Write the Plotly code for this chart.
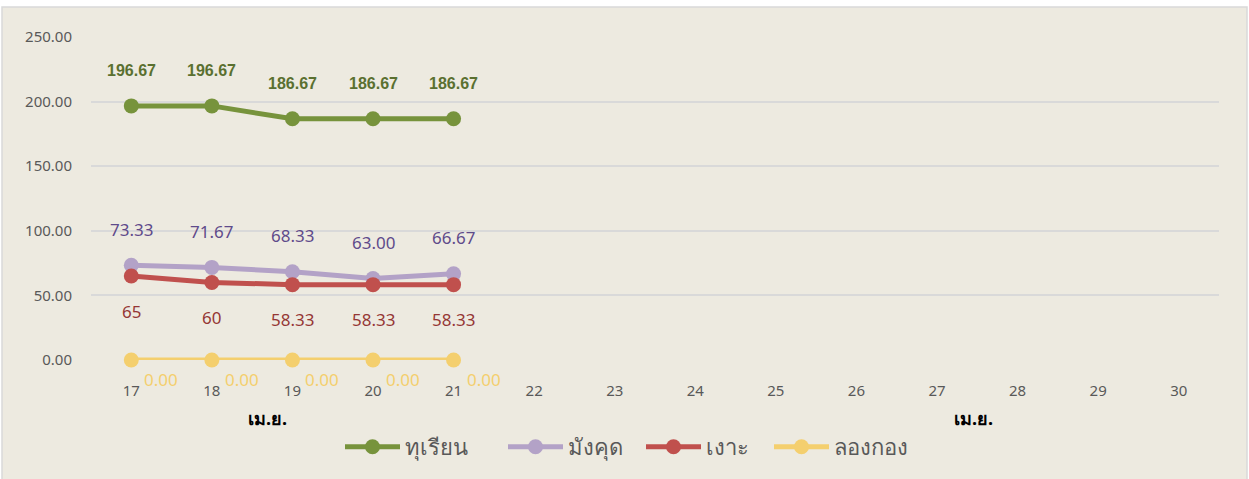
import plotly.graph_objects as go

days = ["17", "18", "19", "20", "21", "22", "23", "24", "25", "26", "27", "28", "29", "30"]
durian = [196.67, 196.67, 186.67, 186.67, 186.67]
mangosteen = [73.33, 71.67, 68.33, 63.00, 66.67]
rambutan = [65, 60, 58.33, 58.33, 58.33]
longkong = [0.00, 0.00, 0.00, 0.00, 0.00]
rambutan_labels = ["65", "60", "58.33", "58.33", "58.33"]
y_ticks = [0, 50, 100, 150, 200, 250]
month_label = "เม.ย."

W, H = 1249, 479
ML, MR, MT, MB = 91, 30, 37, 118
PW = W - ML - MR
PH = H - MT - MB

BG = "#EDEAE0"
FONT = "Tahoma, 'Noto Sans', 'DejaVu Sans', sans-serif"

series = [
    ("ทุเรียน", durian, "#77933C"),
    ("มังคุด", mangosteen, "#B3A2C7"),
    ("เงาะ", rambutan, "#C0504D"),
    ("ลองกอง", longkong, "#F4CF6E"),
]
legend_px = [340, 503, 641, 769]

fig = go.Figure()
legend_layouts = {}
for k, (name, vals, col) in enumerate(series):
    lname = "legend" if k == 0 else f"legend{k + 1}"
    fig.add_trace(go.Scatter(
        x=days[:len(vals)], y=vals, name=name, mode="lines+markers",
        line=dict(color=col, width=5), marker=dict(color=col, size=15),
        cliponaxis=False, legend=lname,
    ))
    legend_layouts[lname] = dict(
        x=(legend_px[k] - ML) / PW, xanchor="left", y=(361 - 447) / PH, yanchor="middle",
        font=dict(size=22, color="#595959", family=FONT), bgcolor="rgba(0,0,0,0)",
        itemwidth=55, orientation="h",
    )

ann = []
for i, v in enumerate(durian):
    ann.append(dict(x=i, y=v, text=f"<b>{v:.2f}</b>", showarrow=False, yshift=35,
                    font=dict(size=16, color="#5A7030", family="Arial, 'Liberation Sans', sans-serif")))
for i, v in enumerate(mangosteen):
    ann.append(dict(x=i, y=v, text=f"{v:.2f}", showarrow=False, yshift=36,
                    font=dict(size=17, color="#5F4B8B", family=FONT)))
for i, v in enumerate(rambutan):
    ann.append(dict(x=i, y=v, text=rambutan_labels[i], showarrow=False, yshift=-35,
                    font=dict(size=17, color="#953735", family=FONT)))
for i, v in enumerate(longkong):
    ann.append(dict(x=i, y=v, text=f"{v:.2f}", showarrow=False, yshift=-19, xshift=30,
                    font=dict(size=17, color="#F4CF6E", family=FONT)))
# multi-level category month labels
for xp in [(267 - ML) / PW, (973 - ML) / PW]:
    ann.append(dict(x=xp, xref="paper", xanchor="center", y=(361 - 419) / PH, yref="paper",
                    yanchor="middle", text=f"<b>{month_label}</b>",
                    showarrow=False, font=dict(size=18, color="#000000", family=FONT)))

shapes = [dict(type="rect", xref="paper", yref="paper", layer="below",
               x0=(2 - ML) / PW, x1=(1247 - ML) / PW, y0=(MT + PH - 479) / PH - 0.01, y1=(MT + PH - 7) / PH,
               fillcolor=BG, line=dict(color="#D9D9D9", width=1.5))]

fig.update_layout(
    width=W, height=H,
    margin=dict(l=ML, r=MR, t=MT, b=MB),
    paper_bgcolor="#FFFFFF", plot_bgcolor=BG,
    font=dict(family=FONT, color="#595959"),
    annotations=ann, shapes=shapes,
    xaxis=dict(type="category", categoryorder="array", categoryarray=days, range=[-0.5, 13.5],
               showgrid=False, showline=False, zeroline=False, ticks="",
               tickfont=dict(size=15, color="#595959"), ticklabelstandoff=20),
    yaxis=dict(range=[0, 250], tickvals=y_ticks, tickformat=".2f", showgrid=True,
               gridcolor="#D9D9D9", gridwidth=1.5, zeroline=False, showline=False, ticks="",
               tickfont=dict(size=15, color="#595959"), ticklabelstandoff=18),
    showlegend=True,
    **legend_layouts,
)
fig.write_html("out.html", post_script="document.body.style.margin='0';",
               config={"displayModeBar": False})
